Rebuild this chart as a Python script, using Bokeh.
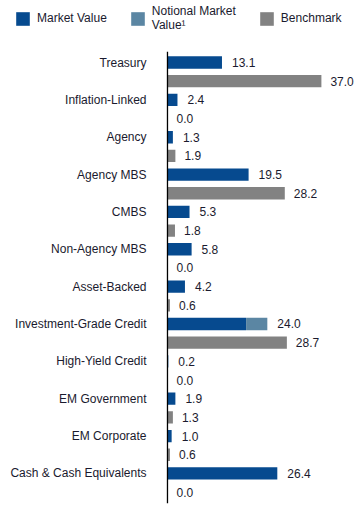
from bokeh.plotting import figure
from bokeh.models import ColumnDataSource, Range1d, Legend, LegendItem
from bokeh.core.properties import value
from bokeh.embed import file_html
from bokeh.resources import INLINE

categories = ["Treasury", "Inflation-Linked", "Agency", "Agency MBS", "CMBS",
              "Non-Agency MBS", "Asset-Backed", "Investment-Grade Credit",
              "High-Yield Credit", "EM Government", "EM Corporate",
              "Cash & Cash Equivalents"]
market_value = [13.1, 2.4, 1.3, 19.5, 5.3, 5.8, 4.2, 18.9, 0.2, 1.9, 1.0, 26.4]
notional_value = [0, 0, 0, 0, 0, 0, 0, 5.1, 0, 0, 0, 0]
benchmark = [37.0, 0.0, 1.9, 28.2, 1.8, 0.0, 0.6, 28.7, 0.0, 1.3, 0.6, 0.0]
series_names = ["Market Value", "Notional Market\nValue\u00b9", "Benchmark"]

FONT = "Liberation Sans"
FS = "12px"
TXT = "#1a1a2e"
C_MV = "#064a8f"
C_NV = "#5b86a3"
C_BM = "#828282"

n = len(categories)
mv_y = [i for i in range(n)]
bm_y = [i + 0.5 for i in range(n)]
total_mv = [m + v for m, v in zip(market_value, notional_value)]

src = ColumnDataSource(dict(
    cat=categories, mv=market_value, nv=notional_value, bm=benchmark,
    tot=total_mv, mv_y=mv_y, bm_y=bm_y,
    tot_lbl=[f"{v:.1f}" for v in total_mv],
    bm_lbl=[f"{v:.1f}" for v in benchmark],
))

p = figure(width=363, height=511, output_backend="svg", toolbar_location=None,
           x_range=Range1d(-40.14, 47.12), y_range=Range1d(12.02, -1.66),
           min_border=0)
p.axis.visible = False
p.grid.visible = False
p.outline_line_color = None
p.background_fill_color = None
p.border_fill_color = None

H = 0.33
r_mv = p.hbar(y="mv_y", left=0, right="mv", height=H, source=src,
              fill_color=C_MV, line_color=None)
r_nv = p.hbar(y="mv_y", left="mv", right="tot", height=H, source=src,
              fill_color=C_NV, line_color=None)
r_bm = p.hbar(y="bm_y", left=0, right="bm", height=H, source=src,
              fill_color=C_BM, line_color=None)

# axis line
p.segment(x0=[0], y0=[-0.29], x1=[0], y1=[11.8], line_color="black", line_width=1.3)

p.text(x=0, y="mv_y", text="cat", source=src, x_offset=-21, text_align="right",
       text_baseline="middle", text_font=value(FONT), text_font_size=FS,
       text_color=TXT)
p.text(x="tot", y="mv_y", text="tot_lbl", source=src, x_offset=10, text_align="left",
       text_baseline="middle", text_font=value(FONT), text_font_size=FS,
       text_color=TXT)
p.text(x="bm", y="bm_y", text="bm_lbl", source=src, x_offset=9, text_align="left",
       text_baseline="middle", text_font=value(FONT), text_font_size=FS,
       text_color=TXT)

legend = Legend(items=[LegendItem(label=series_names[0], renderers=[r_mv]),
                       LegendItem(label=series_names[1], renderers=[r_nv]),
                       LegendItem(label=series_names[2], renderers=[r_bm])],
                orientation="horizontal", location=(14, 479),
                glyph_width=17, glyph_height=17, label_standoff=6, spacing=22,
                padding=0, margin=0, border_line_color=None,
                background_fill_alpha=0, label_text_font=FONT,
                label_text_font_size=FS, label_text_color=TXT,
                label_text_line_height=1.2)
p.add_layout(legend)

open("out.html", "w").write(file_html(p, INLINE))
